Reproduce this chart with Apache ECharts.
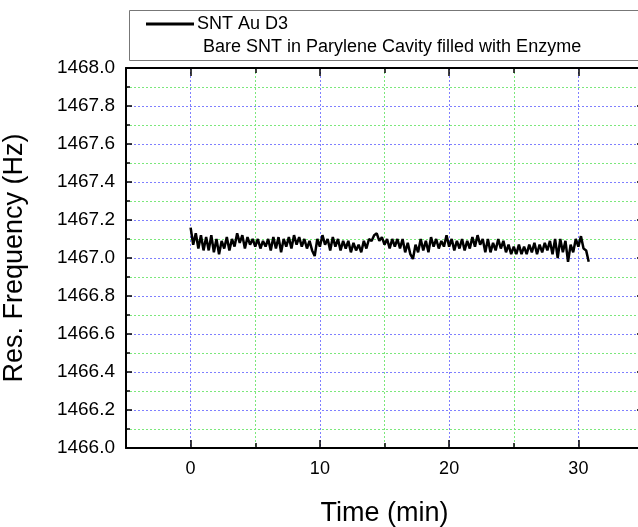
<!DOCTYPE html>
<html>
<head>
<meta charset="utf-8">
<script src="https://cdn.jsdelivr.net/npm/echarts@6/dist/echarts.min.js"></script>
<style>html,body{margin:0;padding:0;background:#fff}#c{width:638px;height:527px}</style>
</head>
<body>
<div id="c"></div>
<script>
const seriesName = 'SNT Au D3';
const legendNote = 'Bare SNT in Parylene Cavity filled with Enzyme';
const xTitle = 'Time (min)';
const yTitle = 'Res. Frequency (Hz)';
const xLabelValues = [0, 10, 20, 30];

const timeMin = [
0.0,0.2,0.4,0.6,0.8,1.0,1.2,1.4,1.6,1.8,2.0,2.2,2.4,2.6,2.8,3.0,3.2,3.4,3.6,3.8,
4.0,4.2,4.4,4.6,4.8,5.0,5.2,5.4,5.6,5.8,6.0,6.2,6.4,6.6,6.8,7.0,7.2,7.4,7.6,7.8,
8.0,8.2,8.4,8.6,8.8,9.0,9.2,9.4,9.6,9.8,10.0,10.2,10.4,10.6,10.8,11.0,11.2,11.4,11.6,11.8,
12.0,12.2,12.4,12.6,12.8,13.0,13.2,13.4,13.6,13.8,14.0,14.2,14.4,14.6,14.8,15.0,15.2,15.4,15.6,15.8,
16.0,16.2,16.4,16.6,16.8,17.0,17.2,17.4,17.6,17.8,18.0,18.2,18.4,18.6,18.8,19.0,19.2,19.4,19.6,19.8,
20.0,20.2,20.4,20.6,20.8,21.0,21.2,21.4,21.6,21.8,22.0,22.2,22.4,22.6,22.8,23.0,23.2,23.4,23.6,23.8,
24.0,24.2,24.4,24.6,24.8,25.0,25.2,25.4,25.6,25.8,26.0,26.2,26.4,26.6,26.8,27.0,27.2,27.4,27.6,27.8,
28.0,28.2,28.4,28.6,28.8,29.0,29.2,29.4,29.6,29.8,30.0,30.2,30.4,30.6,30.8
];

const freqHz = [
1467.16,1467.07,1467.13,1467.05,1467.12,1467.04,1467.11,1467.04,1467.12,1467.03,1467.10,1467.02,1467.09,1467.05,1467.11,1467.04,1467.10,1467.06,1467.13,1467.08,
1467.12,1467.05,1467.11,1467.07,1467.10,1467.06,1467.10,1467.05,1467.09,1467.06,1467.10,1467.04,1467.11,1467.05,1467.11,1467.03,1467.10,1467.06,1467.11,1467.05,
1467.12,1467.07,1467.11,1467.06,1467.10,1467.05,1467.09,1467.04,1467.01,1467.10,1467.06,1467.12,1467.07,1467.10,1467.04,1467.11,1467.06,1467.10,1467.04,1467.09,
1467.05,1467.09,1467.03,1467.08,1467.04,1467.07,1467.03,1467.09,1467.05,1467.10,1467.09,1467.12,1467.13,1467.09,1467.11,1467.07,1467.10,1467.05,1467.10,1467.06,
1467.10,1467.05,1467.10,1467.03,1467.08,1467.02,1466.995,1467.07,1467.03,1467.10,1467.04,1467.09,1467.03,1467.11,1467.06,1467.10,1467.05,1467.09,1467.06,1467.12,
1467.06,1467.10,1467.04,1467.09,1467.05,1467.10,1467.04,1467.09,1467.05,1467.11,1467.06,1467.12,1467.07,1467.10,1467.03,1467.10,1467.03,1467.08,1467.04,1467.10,
1467.05,1467.09,1467.03,1467.07,1467.02,1467.06,1467.02,1467.07,1467.02,1467.06,1467.02,1467.07,1467.03,1467.08,1467.02,1467.07,1467.03,1467.08,1467.04,1467.09,
1467.02,1467.10,1467.00,1467.10,1467.03,1467.09,1466.98,1467.07,1467.03,1467.10,1467.06,1467.115,1467.05,1467.04,1466.98
];

const data = timeMin.map((t, i) => [t, freqHz[i]]);
const FONT = '"Liberation Sans", Arial, sans-serif';
const BLUE = '#7f7fff';
const GREEN = '#7be87b';

const chart = echarts.init(document.getElementById('c'), null, {renderer: 'canvas'});
chart.setOption({
  animation: false,
  backgroundColor: '#fff',
  textStyle: {fontFamily: FONT, color: '#000'},
  grid: {left: 126, top: 68, width: 517, height: 380, containLabel: false, outerBoundsMode: 'none'},
  legend: {
    show: true, left: 141, top: 10, itemWidth: 48, itemHeight: 14, itemGap: 4,
    data: [{name: seriesName, icon: 'path://M0,0 L100,0 L100,6 L0,6 Z'}],
    textStyle: {fontFamily: FONT, fontSize: 18, color: '#000', padding: [0,0,0,-2]}
  },
  graphic: [
    {type: 'rect', left: 127, top: 8, shape: {width: 540, height: 50}, style: {fill: 'none', stroke: '#777', lineWidth: 1}, z: -1},
    {type: 'text', left: 203, top: 38, style: {text: legendNote, font: '18px ' + FONT, fill: '#000'}}
  ],
  xAxis: [
    {
      type: 'value', min: -5, max: 35, interval: 10, position: 'bottom',
      name: xTitle, nameLocation: 'middle', nameGap: 52,
      nameTextStyle: {fontFamily: FONT, fontSize: 27, color: '#000'},
      axisLine: {show: true, onZero: false, lineStyle: {color: '#000', width: 2}},
      axisTick: {show: true, inside: true, length: 5, lineStyle: {color: '#000', width: 1.5}},
      minorTick: {show: true, splitNumber: 2, length: 8, lineStyle: {color: '#000', width: 1.5}},
      axisLabel: {show: true, customValues: xLabelValues, fontFamily: FONT, fontSize: 18, color: '#000', margin: 12},
      splitLine: {show: true, lineStyle: {color: GREEN, type: [2, 2], width: 1}},
      minorSplitLine: {show: true, lineStyle: {color: BLUE, type: [2, 2], width: 1}}
    },
    {
      type: 'value', min: -5, max: 35, interval: 10, position: 'top',
      axisLine: {show: true, onZero: false, lineStyle: {color: '#000', width: 2}},
      axisTick: {show: true, inside: true, length: 5, lineStyle: {color: '#000', width: 1.5}},
      minorTick: {show: true, splitNumber: 2, length: 8, lineStyle: {color: '#000', width: 1.5}},
      axisLabel: {show: false}, splitLine: {show: false}
    }
  ],
  yAxis: [
    {
      type: 'value', min: 1466, max: 1468, interval: 0.2, position: 'left',
      name: yTitle, nameLocation: 'middle', nameGap: 98,
      nameTextStyle: {fontFamily: FONT, fontSize: 27, color: '#000'},
      axisLine: {show: true, onZero: false, lineStyle: {color: '#000', width: 2}},
      axisTick: {show: true, inside: true, length: 6, lineStyle: {color: '#000', width: 1.5}},
      minorTick: {show: true, splitNumber: 2, length: 4, lineStyle: {color: '#000', width: 1.5}},
      axisLabel: {show: true, fontFamily: FONT, fontSize: 19, color: '#000', margin: 11, formatter: v => v.toFixed(1)},
      splitLine: {show: true, lineStyle: {color: BLUE, type: [2, 2], width: 1}},
      minorSplitLine: {show: true, lineStyle: {color: GREEN, type: [2, 2], width: 1}}
    },
    {
      type: 'value', min: 1466, max: 1468, interval: 0.2, position: 'right',
      axisLine: {show: true, onZero: false, lineStyle: {color: '#000', width: 2}},
      axisTick: {show: true, inside: true, length: 6, lineStyle: {color: '#000', width: 1.5}},
      minorTick: {show: true, splitNumber: 2, length: 4, lineStyle: {color: '#000', width: 1.5}},
      axisLabel: {show: false}, splitLine: {show: false}
    }
  ],
  series: [{
    name: seriesName, type: 'line', xAxisIndex: 0, yAxisIndex: 0,
    data: data, symbol: 'none', showSymbol: false,
    lineStyle: {color: '#000', width: 2.5}, itemStyle: {color: '#000'}
  }]
});
</script>
</body>
</html>
